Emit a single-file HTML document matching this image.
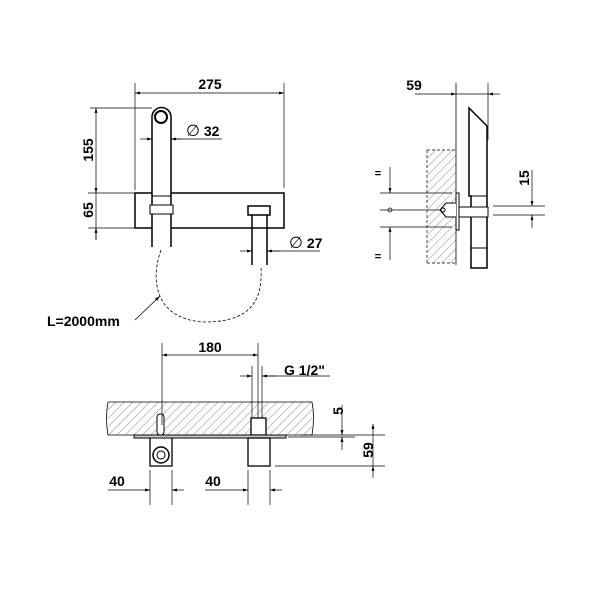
<!DOCTYPE html>
<html><head><style>body{margin:0;background:#fff}svg{display:block}</style></head><body>
<svg width="600" height="600" viewBox="0 0 600 600" xmlns="http://www.w3.org/2000/svg" font-family="Liberation Sans, sans-serif" font-weight="bold">
<defs>
<marker id="a" viewBox="0 0 10 10" refX="10" refY="5" markerWidth="7" markerHeight="7" orient="auto-start-reverse"><path d="M0,2 L10,5 L0,8z" fill="#000"/></marker>
<pattern id="h" width="6" height="6" patternUnits="userSpaceOnUse" patternTransform="rotate(45)"><line x1="0" y1="0" x2="0" y2="6" stroke="#555" stroke-width="0.7"/></pattern>
</defs>
<g stroke="#000" fill="none" stroke-width="1">
<line x1="135" y1="83" x2="135" y2="190" stroke-width="0.7"/>
<line x1="284" y1="83" x2="284" y2="188" stroke-width="0.7"/>
<line x1="135" y1="93" x2="284" y2="93" marker-start="url(#a)" marker-end="url(#a)" stroke-width="0.7"/>
<rect x="135" y="193" width="149" height="35" stroke-width="1.5"/>
<path d="M152,247 L152,117 A9.5,9.5 0 0 1 171,117 L171,247" fill="#fff" stroke-width="1.5"/>
<circle cx="161" cy="117" r="6" stroke-width="2"/>
<line x1="152" y1="196" x2="171" y2="196"/>
<rect x="150" y="205" width="23" height="9" fill="#fff"/>
<line x1="140" y1="139" x2="152" y2="139" marker-end="url(#a)" stroke-width="0.7"/>
<line x1="182" y1="139" x2="171" y2="139" marker-end="url(#a)" stroke-width="0.7"/>
<line x1="171" y1="139" x2="222" y2="139" stroke-width="0.7"/>
<line x1="90" y1="108" x2="152" y2="108" stroke-width="0.7"/>
<line x1="88" y1="193" x2="135" y2="193" stroke-width="0.7"/>
<line x1="88" y1="228" x2="135" y2="228" stroke-width="0.7"/>
<line x1="96" y1="108" x2="96" y2="193" marker-start="url(#a)" marker-end="url(#a)" stroke-width="0.7"/>
<line x1="96" y1="193" x2="96" y2="240" stroke-width="0.7"/>
<line x1="96" y1="240" x2="96" y2="228" marker-end="url(#a)" stroke-width="0.7"/>
<rect x="248" y="206" width="22" height="9" stroke-width="1.5"/>
<path d="M252,215 L252,265 M267,215 L267,265" stroke-width="1.5"/>
<line x1="240" y1="251" x2="252" y2="251" marker-end="url(#a)" stroke-width="0.7"/>
<line x1="280" y1="251" x2="267" y2="251" marker-end="url(#a)" stroke-width="0.7"/>
<line x1="267" y1="251" x2="320" y2="251" stroke-width="0.7"/>
<path d="M161,250 C150,280 155,320 205,322 C260,322 262,290 261,266" stroke-dasharray="3,2" stroke-width="0.8"/>
<line x1="135" y1="320" x2="160" y2="296" marker-end="url(#a)" stroke-width="0.8"/>
<rect x="427" y="150" width="29" height="113" fill="url(#h)" stroke="none"/>
<line x1="427" y1="150" x2="427" y2="263" stroke-dasharray="3,2" stroke-width="0.7"/>
<line x1="427" y1="150" x2="456" y2="150" stroke-dasharray="3,2" stroke-width="0.7"/>
<line x1="427" y1="263" x2="456" y2="263" stroke-dasharray="3,2" stroke-width="0.7"/>
<line x1="456" y1="83" x2="456" y2="265" stroke-width="0.8"/>
<line x1="488" y1="83" x2="488" y2="140" stroke-width="0.7"/>
<line x1="415" y1="94" x2="456" y2="94" marker-end="url(#a)" stroke-width="0.7"/>
<line x1="500" y1="94" x2="488" y2="94" marker-end="url(#a)" stroke-width="0.7"/>
<line x1="456" y1="94" x2="488" y2="94" stroke-width="0.7"/>
<path d="M469,108 L487,126 L487,268 L471,268 L471,196 L469,196 Z" fill="#fff" stroke-width="1.5"/>
<line x1="469" y1="196" x2="487" y2="196"/>
<line x1="471" y1="248" x2="487" y2="248"/>
<rect x="456" y="193" width="3" height="37" fill="#fff"/>
<rect x="459" y="207" width="29" height="10" fill="#fff"/>
<path d="M456,203 L446,203 L440,210 L446,217 L456,217" fill="#fff"/>
<circle cx="443" cy="210" r="2"/>
<line x1="380" y1="193" x2="452" y2="193" stroke-width="0.7"/>
<line x1="380" y1="210" x2="440" y2="210" stroke-width="0.7"/>
<line x1="380" y1="227" x2="452" y2="227" stroke-width="0.7"/>
<circle cx="390" cy="210" r="2" stroke-width="0.7"/>
<line x1="390" y1="167" x2="390" y2="193" marker-end="url(#a)" stroke-width="0.7"/>
<line x1="390" y1="260" x2="390" y2="227" marker-end="url(#a)" stroke-width="0.7"/>
<line x1="493" y1="206" x2="545" y2="206" stroke-width="0.7"/>
<line x1="493" y1="215" x2="545" y2="215" stroke-width="0.7"/>
<line x1="532" y1="170" x2="532" y2="206" marker-end="url(#a)" stroke-width="0.7"/>
<line x1="532" y1="228" x2="532" y2="215" marker-end="url(#a)" stroke-width="0.7"/>
<rect x="108" y="402" width="204" height="33" fill="url(#h)" stroke="none"/>
<path d="M108,402 L312,402 M108,435 L312,435" stroke-width="0.8"/>
<path d="M108,402 Q105,418 108,435 M312,402 Q315,418 312,435" stroke-width="0.8"/>
<rect x="157" y="414" width="7" height="21" fill="#fff" rx="3"/>
<rect x="251" y="418" width="15" height="17" fill="#fff" stroke-width="1.3"/>
<rect x="134" y="435" width="152" height="3" fill="#ccc"/>
<path d="M150,438 L150,466 L172,466 L172,438" stroke-width="1.3"/>
<circle cx="161" cy="455" r="8" stroke-width="1.5"/>
<circle cx="161" cy="455" r="4"/>
<rect x="248" y="438" width="22" height="28" stroke-width="1.3"/>
<line x1="162" y1="343" x2="162" y2="425" stroke-width="0.7"/>
<line x1="258" y1="343" x2="258" y2="418" stroke-width="0.7"/>
<line x1="162" y1="355" x2="258" y2="355" marker-start="url(#a)" marker-end="url(#a)" stroke-width="0.7"/>
<line x1="252" y1="366" x2="252" y2="418" stroke-width="0.7"/>
<line x1="262" y1="366" x2="262" y2="418" stroke-width="0.7"/>
<line x1="240" y1="376" x2="252" y2="376" marker-end="url(#a)" stroke-width="0.7"/>
<line x1="275" y1="376" x2="262" y2="376" marker-end="url(#a)" stroke-width="0.7"/>
<line x1="262" y1="376" x2="330" y2="376" stroke-width="0.7"/>
<line x1="288" y1="437" x2="355" y2="437" stroke-width="0.7"/>
<line x1="300" y1="435" x2="385" y2="435" stroke-width="0.7"/>
<line x1="275" y1="466" x2="385" y2="466" stroke-width="0.7"/>
<line x1="342" y1="405" x2="342" y2="435" marker-end="url(#a)" stroke-width="0.7"/>
<line x1="342" y1="450" x2="342" y2="437" marker-end="url(#a)" stroke-width="0.7"/>
<line x1="373" y1="424" x2="373" y2="435" marker-start="url(#a)" stroke-width="0.7"/>
<line x1="373" y1="435" x2="373" y2="466" stroke-width="0.7"/>
<line x1="373" y1="478" x2="373" y2="466" marker-end="url(#a)" stroke-width="0.7"/>
<line x1="150" y1="470" x2="150" y2="505" stroke-width="0.7"/>
<line x1="172" y1="470" x2="172" y2="505" stroke-width="0.7"/>
<line x1="108" y1="490" x2="150" y2="490" marker-end="url(#a)" stroke-width="0.7"/>
<line x1="184" y1="490" x2="172" y2="490" marker-end="url(#a)" stroke-width="0.7"/>
<line x1="248" y1="470" x2="248" y2="505" stroke-width="0.7"/>
<line x1="270" y1="470" x2="270" y2="505" stroke-width="0.7"/>
<line x1="205" y1="490" x2="248" y2="490" marker-end="url(#a)" stroke-width="0.7"/>
<line x1="282" y1="490" x2="270" y2="490" marker-end="url(#a)" stroke-width="0.7"/>
</g>
<g font-size="14" fill="#000">
<text x="210" y="89" text-anchor="middle">275</text>
<text x="186" y="136"><tspan font-weight="normal" font-size="16">∅</tspan> 32</text>
<text x="289" y="248"><tspan font-weight="normal" font-size="16">∅</tspan> 27</text>
<text x="47" y="326">L=2000mm</text>
<text transform="translate(93,150) rotate(-90)" text-anchor="middle">155</text>
<text transform="translate(93,210) rotate(-90)" text-anchor="middle">65</text>
<text x="414" y="90" text-anchor="middle">59</text>
<text x="378" y="177" text-anchor="middle" font-size="11">=</text>
<text x="378" y="260" text-anchor="middle" font-size="11">=</text>
<text transform="translate(529,178) rotate(-90)" text-anchor="middle">15</text>
<text x="210" y="352" text-anchor="middle">180</text>
<text x="284" y="375">G 1/2"</text>
<text transform="translate(343,411) rotate(-90)" text-anchor="middle">5</text>
<text transform="translate(373,450) rotate(-90)" text-anchor="middle">59</text>
<text x="117" y="486" text-anchor="middle">40</text>
<text x="213" y="486" text-anchor="middle">40</text>
</g>
</svg>
</body></html>
